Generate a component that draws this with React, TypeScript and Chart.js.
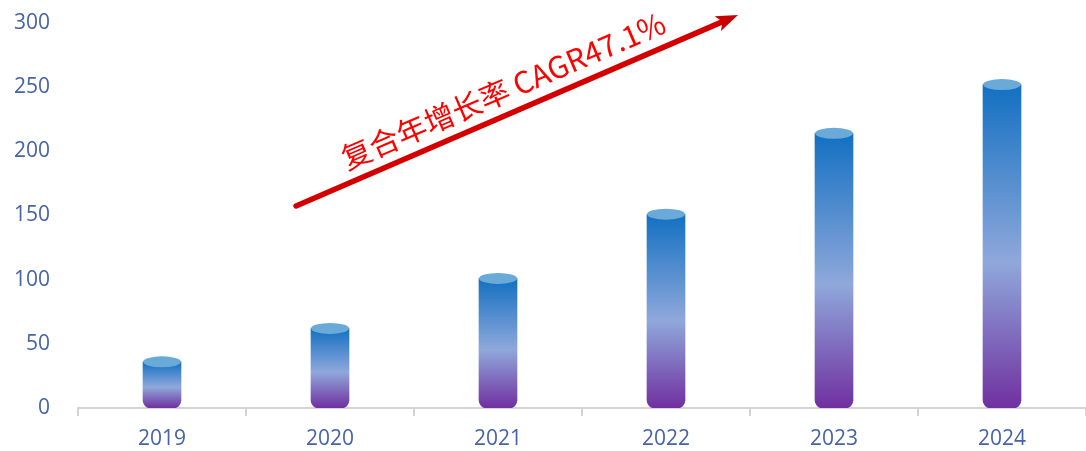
import React, { useEffect, useRef } from "react";
import { Chart, registerables } from "chart.js";

Chart.register(...registerables);

const categories = ["2019", "2020", "2021", "2022", "2023", "2024"];
const values = [36, 62, 101, 151, 214, 252];
const yTicks = [0, 50, 100, 150, 200, 250, 300];
const annotationText = "复合年增长率 CAGR47.1%";

const TICK_COLOR = "#4563a6";
const FONT = "'Open Sans', 'Noto Sans CJK SC', sans-serif";

const cylinderPlugin = {
  id: "cylinder",
  afterDatasetsDraw(chart: any) {
    const ctx = chart.ctx;
    const meta = chart.getDatasetMeta(0);
    meta.data.forEach((bar: any) => {
      const w = bar.width;
      const rx = w / 2;
      const ry = 5.5;
      ctx.save();
      ctx.beginPath();
      ctx.ellipse(bar.x, bar.y, rx, ry, 0, 0, Math.PI * 2);
      ctx.fillStyle = "#6aaad9";
      ctx.fill();
      ctx.restore();
    });
  },
};

const arrowPlugin = {
  id: "cagrArrow",
  afterDraw(chart: any) {
    const ctx = chart.ctx;
    const area = chart.chartArea;
    const w = area.right - area.left;
    const h = area.bottom - area.top;
    const x0 = area.left + w * 0.2163;
    const y0 = area.top + h * 0.4753;
    const x1 = area.left + w * 0.6548;
    const y1 = area.top - h * 0.0208;
    const ang = Math.atan2(y1 - y0, x1 - x0);
    const headLen = 22;
    const headW = 8;
    ctx.save();
    const bx = x1 - Math.cos(ang) * (headLen - 4);
    const by = y1 - Math.sin(ang) * (headLen - 4);
    ctx.beginPath();
    ctx.moveTo(x0, y0);
    ctx.lineTo(bx, by);
    ctx.strokeStyle = "#d40000";
    ctx.lineWidth = 5.5;
    ctx.lineCap = "round";
    ctx.stroke();
    const hx = x1 - Math.cos(ang) * headLen;
    const hy = y1 - Math.sin(ang) * headLen;
    const px = -Math.sin(ang);
    const py = Math.cos(ang);
    ctx.beginPath();
    ctx.moveTo(x1, y1);
    ctx.lineTo(hx + px * headW, hy + py * headW);
    ctx.lineTo(hx + Math.cos(ang) * 5, hy + Math.sin(ang) * 5);
    ctx.lineTo(hx - px * headW, hy - py * headW);
    ctx.closePath();
    ctx.fillStyle = "#c80000";
    ctx.fill();
    const mx = (x0 + x1) / 2 - 7;
    const my = (y0 + y1) / 2 - 4;
    ctx.translate(mx, my);
    ctx.rotate(ang);
    ctx.font = "30px 'Noto Sans CJK SC', sans-serif";
    ctx.fillStyle = "#ff0000";
    ctx.textAlign = "center";
    ctx.textBaseline = "alphabetic";
    ctx.fillText(annotationText, 0, -6);
    ctx.restore();
  },
};

export default function App() {
  const ref = useRef<HTMLCanvasElement | null>(null);
  useEffect(() => {
    if (!ref.current) return;
    const chart = new Chart(ref.current, {
      type: "bar",
      data: {
        labels: categories,
        datasets: [
          {
            data: values,
            barThickness: 38,
            borderRadius: { topLeft: 0, topRight: 0, bottomLeft: 8, bottomRight: 8 },
            borderSkipped: false,
            backgroundColor: (c: any) => {
              const chart = c.chart;
              const ys = chart.scales && chart.scales.y;
              if (!ys || c.type !== "data" || c.parsed == null) return "#1a75c4";
              const top = ys.getPixelForValue(c.parsed.y);
              const bot = ys.getPixelForValue(0);
              if (!isFinite(top) || !isFinite(bot) || top === bot) return "#1a75c4";
              const g = chart.ctx.createLinearGradient(0, top, 0, bot);
              g.addColorStop(0, "#1270c2");
              g.addColorStop(0.55, "#8fa8db");
              g.addColorStop(1, "#7030a0");
              return g;
            },
          },
        ],
      },
      options: {
        animation: false,
        responsive: false,
        maintainAspectRatio: false,
        layout: { padding: { top: 23, right: 0, left: 0, bottom: 1 } },
        plugins: {
          legend: { display: false },
          tooltip: { enabled: false },
          title: { display: false },
        },
        scales: {
          x: {
            afterFit: (axis: any) => {
              axis.height = 42;
            },
            grid: {
              display: true,
              drawOnChartArea: false,
              drawTicks: true,
              tickLength: 8,
              color: "#d4d4d4",
              lineWidth: 2,
              offset: true,
            },
            border: { display: true, color: "#d4d4d4", width: 2 },
            ticks: {
              color: TICK_COLOR,
              font: { size: 21, family: FONT },
              padding: 10,
            },
          },
          y: {
            min: 0,
            max: 300,
            afterBuildTicks: (axis: any) => {
              axis.ticks = yTicks.map((v) => ({ value: v }));
            },
            grid: { display: false, drawTicks: false },
            border: { display: false },
            afterFit: (axis: any) => {
              axis.width = 78;
              axis.paddingTop = 0;
              axis.paddingBottom = 0;
            },
            ticks: {
              color: TICK_COLOR,
              font: { size: 21, family: FONT },
              padding: 28,
            },
          },
        },
      },
      plugins: [cylinderPlugin, arrowPlugin],
    });
    return () => chart.destroy();
  }, []);
  return (
    <div style={{ position: "absolute", left: 0, top: 0, width: 1086, height: 451 }}>
      <canvas ref={ref} width={1086} height={451} style={{ display: "block" }} />
    </div>
  );
}
